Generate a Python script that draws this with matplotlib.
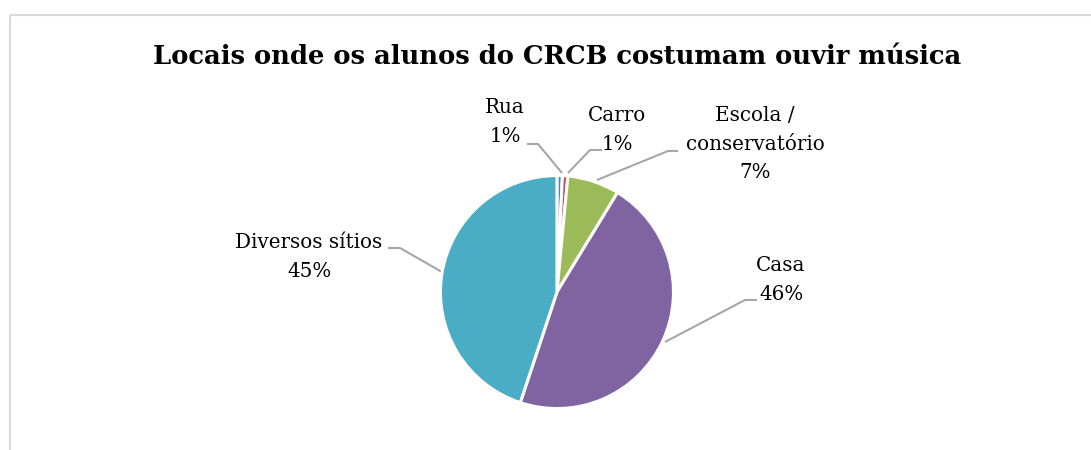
import matplotlib.pyplot as plt
from matplotlib.patches import Rectangle

# data
categories = ["Rua", "Carro", "Escola /\nconservatório", "Casa", "Diversos sítios"]
values = [0.75, 0.75, 7.2, 46.4, 44.9]
slice_colors = ["#4F81BD", "#C0504D", "#9BBB59", "#8064A2", "#4BACC6"]
title = "Locais onde os alunos do CRCB costumam ouvir música"

W, H = 1091, 450
fig = plt.figure(figsize=(W / 100, H / 100), dpi=100)
fig.patch.set_facecolor("white")

# overlay in pixel coordinates for frame, title, labels and leader lines
ov = fig.add_axes([0, 0, 1, 1])
ov.set_xlim(0, W)
ov.set_ylim(H, 0)
ov.axis("off")
ov.add_patch(Rectangle((10, 15), W + 20, H + 20, fill=False,
                       edgecolor="#D9D9D9", linewidth=1.5))

serif = ["DejaVu Serif"]
ov.text(557, 57, title, ha="center", va="center", fontsize=18.6,
        fontweight="bold", family=serif, color="black")

# pie
ax = fig.add_axes([0.4037, 0.092, 0.2136, 0.518])
ax.pie(values, colors=slice_colors, startangle=90, counterclock=False,
       radius=1, wedgeprops=dict(edgecolor="white", linewidth=2.2))
ax.set_xlim(-1.0, 1.0)
ax.set_ylim(-1.0, 1.0)
ax.set_aspect("equal")
ax.axis("off")

total = sum(values)
pct = [f"{round(v / total * 100):.0f}%" for v in values]

# label centers (px) and leader lines
label_pos = [(505, 122), (617, 130), (755, 144), (781, 280), (309, 257)]
leaders = [
    [(527, 144), (538, 144), (562, 173)],
    [(602, 150), (590, 150), (568, 173)],
    [(678, 151), (668, 151), (597, 180)],
    [(757, 300), (745, 300), (665, 342)],
    [(388, 248), (400, 248), (442, 272)],
]

for cat, p, (x, y), pts in zip(categories, pct, label_pos, leaders):
    ov.text(x, y, f"{cat}\n{p}", ha="center", va="center", fontsize=14.3,
            family=serif, color="black", linespacing=1.65)
    xs, ys = zip(*pts)
    ov.plot(xs, ys, color="#A6A6A6", linewidth=1.5, solid_capstyle="butt")

fig.savefig("out.png", dpi=100)
